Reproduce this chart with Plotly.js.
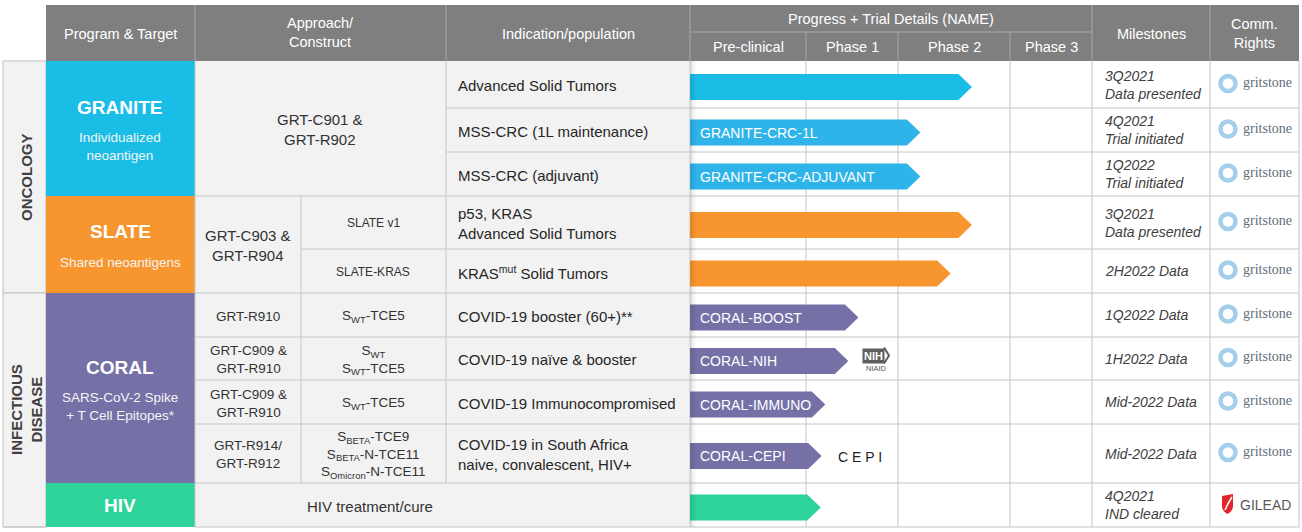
<!DOCTYPE html>
<html>
<head>
<meta charset="utf-8">
<script src="https://cdn.plot.ly/plotly-3.0.1.min.js"></script>
<style>
  html, body { margin: 0; padding: 0; background: #fff; }
  #chart { width: 1302px; height: 532px; }
</style>
</head>
<body>
<div id="chart"></div>
<script>
// ---- chart data ----
const areas = ['ONCOLOGY', 'INFECTIOUS<br>DISEASE'];
const areaRows = [5, 5];
const programs = ['GRANITE', 'SLATE', 'CORAL', 'HIV'];
const programSubs = ['Individualized<br>neoantigen', 'Shared neoantigens', 'SARS-CoV-2 Spike<br>+ T Cell Epitopes*', ''];
const programRows = [3, 2, 4, 1];
const phases = ['Pre-clinical', 'Phase 1', 'Phase 2', 'Phase 3'];

const indications = [
  'Advanced Solid Tumors',
  'MSS-CRC (1L maintenance)',
  'MSS-CRC (adjuvant)',
  'p53, KRAS<br>Advanced Solid Tumors',
  'KRAS<sup>mut</sup> Solid Tumors',
  'COVID-19 booster (60+)**',
  'COVID-19 naïve & booster',
  'COVID-19 Immunocompromised',
  'COVID-19 in South Africa<br>naive, convalescent, HIV+',
  ''
];
const trialNames = ['', 'GRANITE-CRC-1L', 'GRANITE-CRC-ADJUVANT', '', '', 'CORAL-BOOST', 'CORAL-NIH', 'CORAL-IMMUNO', 'CORAL-CEPI', ''];
// progress in stage units: 0 = start of pre-clinical, 1 = phase 1, 2 = phase 2, 3 = phase 3
const progress = [2.66, 2.2, 2.2, 2.66, 2.47, 1.57, 1.46, 1.21, 1.17, 1.16];
const milestones = [
  '3Q2021<br>Data presented',
  '4Q2021<br>Trial initiated',
  '1Q2022<br>Trial initiated',
  '3Q2021<br>Data presented',
  '2H2022 Data',
  '1Q2022 Data',
  '1H2022 Data',
  'Mid-2022 Data',
  'Mid-2022 Data',
  '4Q2021<br>IND cleared'
];
const rights = ['gritstone', 'gritstone', 'gritstone', 'gritstone', 'gritstone', 'gritstone', 'gritstone', 'gritstone', 'gritstone', 'GILEAD'];
const partners = ['', '', '', '', '', '', 'NIH', '', 'CEPI', ''];

// approach / construct text: merged blocks [firstRow, rowCount, text]
const constructMain = [
  [0, 3, 'GRT-C901 &<br>GRT-R902'],
  [3, 2, 'GRT-C903 &<br>GRT-R904'],
  [5, 1, 'GRT-R910'],
  [6, 1, 'GRT-C909 &<br>GRT-R910'],
  [7, 1, 'GRT-C909 &<br>GRT-R910'],
  [8, 1, 'GRT-R914/<br>GRT-R912'],
  [9, 1, 'HIV treatment/cure']
];
const constructSub = [
  '', '', '',
  'SLATE v1',
  'SLATE-KRAS',
  'S<sub>WT</sub>-TCE5',
  'S<sub>WT</sub><br>S<sub>WT</sub>-TCE5',
  'S<sub>WT</sub>-TCE5',
  'S<sub>BETA</sub>-TCE9<br>S<sub>BETA</sub>-N-TCE11<br>S<sub>Omicron</sub>-N-TCE11',
  ''
];

// ---- layout geometry and styles ----
const FONT = 'Liberation Sans, Arial, sans-serif';
const programColors = ['#19bde6', '#f7962f', '#7571a7', '#2dd399'];
const arrowColors = ['#19bde6', '#2fb4ea', '#2fb4ea', '#f7962f', '#f7962f', '#7571a7', '#7571a7', '#7571a7', '#7571a7', '#2dd399'];
const rowEdges = [61, 108, 152, 196, 249, 293, 337, 380, 424, 483, 527];
const phaseEdges = [690, 806, 898, 1010, 1092];
const headTop = 5, headMid = 32, headBottom = 61;
const gridColor = '#c6c6c6';

const rowCenter = i => (rowEdges[i] + rowEdges[i + 1]) / 2;
function stageX(v) {
  const i = Math.min(3, Math.floor(v));
  return phaseEdges[i] + (v - i) * (phaseEdges[i + 1] - phaseEdges[i]);
}

const shapes = [];
const annotations = [];

function box(x0, x1, y0, y1, fill, lineColor, layer) {
  shapes.push({
    type: 'rect', xref: 'x', yref: 'y', x0: x0, x1: x1, y0: y0, y1: y1,
    fillcolor: fill, line: { width: lineColor ? 1 : 0, color: lineColor || fill },
    layer: layer || 'below'
  });
}
function seg(x0, y0, x1, y1, color, layer) {
  shapes.push({
    type: 'line', xref: 'x', yref: 'y', x0: x0, y0: y0, x1: x1, y1: y1,
    line: { color: color, width: 1 }, layer: layer || 'below'
  });
}
function txt(x, y, text, size, color, opts) {
  annotations.push(Object.assign({
    xref: 'x', yref: 'y', x: x, y: y, text: text, showarrow: false,
    xanchor: 'center', yanchor: 'middle', align: 'center',
    font: { family: FONT, size: size, color: color }
  }, opts || {}));
}

// backgrounds
box(195, 690, rowEdges[0], rowEdges[10], '#f2f2f2');
box(46, 1299, headTop, headBottom, '#7f7f7f');

// area column
let r0 = 0;
areas.forEach((a, k) => {
  const y0 = rowEdges[r0], y1 = rowEdges[r0 + areaRows[k]];
  box(3, 46, y0, y1, '#f2f2f2', '#bfbfbf');
  txt(26, (y0 + y1) / 2, '<b>' + a + '</b>', 15, '#404040', { textangle: -90 });
  r0 += areaRows[k];
});

// program cells
r0 = 0;
programs.forEach((p, k) => {
  const y0 = rowEdges[r0], y1 = rowEdges[r0 + programRows[k]];
  const mid = (y0 + y1) / 2;
  box(46, 195, y0, y1, programColors[k]);
  if (programSubs[k]) {
    const lines = programSubs[k].split('<br>').length;
    txt(120, mid - (lines === 2 ? 21 : 13), '<b>' + p + '</b>', 19, '#ffffff');
    txt(120, mid + 18, programSubs[k], 13.5, '#f4f4f4');
  } else {
    txt(120, mid, '<b>' + p + '</b>', 19, '#ffffff');
  }
  r0 += programRows[k];
});

// grid lines in the body
for (let k = 1; k < rowEdges.length; k++) {
  let left = 195;
  if (k === 1 || k === 2) left = 446;
  if (k === 4) left = 301;
  seg(left, rowEdges[k], 1299, rowEdges[k], gridColor);
}
seg(3, rowEdges[10], 46, rowEdges[10], gridColor);
seg(195, rowEdges[0], 195, rowEdges[10], gridColor);
seg(301, rowEdges[3], 301, rowEdges[9], gridColor);
seg(446, rowEdges[0], 446, rowEdges[9], gridColor);
[690, 806, 898, 1010, 1092, 1210, 1299].forEach(x => seg(x, rowEdges[0], x, rowEdges[10], gridColor));

// soft shadow on the left edge of the progress area
[[691, 0.14], [692, 0.09], [693, 0.06], [694, 0.04], [695, 0.025], [696, 0.015]].forEach(s => {
  seg(s[0], rowEdges[0], s[0], rowEdges[10], 'rgba(0,0,0,' + s[1] + ')', 'above');
});

// header separators and labels
const headLine = '#a8a8a8';
[195, 446, 690, 1092, 1210].forEach(x => seg(x, headTop, x, headBottom, headLine));
[806, 898, 1010].forEach(x => seg(x, headMid, x, headBottom, headLine));
seg(690, headMid, 1092, headMid, headLine);

txt(120, 34, 'Program & Target', 14.5, '#ffffff');
txt(320, 32, 'Approach/<br>Construct', 14.5, '#ffffff');
txt(568, 34, 'Indication/population', 14.5, '#ffffff');
txt(891, 19, 'Progress + Trial Details (NAME)', 14.5, '#ffffff');
phases.forEach((ph, i) => txt((phaseEdges[i] + phaseEdges[i + 1]) / 2, 47, ph, 14.5, '#ffffff'));
txt(1151, 34, 'Milestones', 14.5, '#ffffff');
txt(1254, 33, 'Comm.<br>Rights', 14.5, '#ffffff');

// approach / construct text
constructMain.forEach(c => {
  const y = (rowEdges[c[0]] + rowEdges[c[0] + c[1]]) / 2;
  let x = 248, size = 13.5;
  if (c[0] === 0) { x = 320; size = 15; }
  if (c[0] === 3) { size = 15; }
  if (c[0] === 9) { x = 370; size = 15; }
  txt(x, y + 1, c[2], size, '#333333');
});
constructSub.forEach((s, i) => {
  if (!s) return;
  const size = i < 5 ? 12 : 13.5;
  txt(373, rowCenter(i) + (i === 3 ? 0 : 1), s, size, '#333333');
});

// indication column
indications.forEach((t, i) => {
  if (!t) return;
  txt(456, rowCenter(i) + 1, t, 15, '#262626', { xanchor: 'left', align: 'left' });
});

// milestones
milestones.forEach((m, i) => {
  txt(1103, rowCenter(i), '<i>' + m + '</i>', 14, '#404040', { xanchor: 'left', align: 'left' });
});

// progress arrows
const traces = [];
const halfH = 13, tip = 13.5;
progress.forEach((v, i) => {
  const yc = rowCenter(i) + 2.5;
  const x0 = phaseEdges[0];
  const xe = stageX(v);
  traces.push({
    type: 'scatter', mode: 'lines', fill: 'toself',
    x: [x0, xe - tip, xe, xe - tip, x0, x0],
    y: [yc - halfH, yc - halfH, yc, yc + halfH, yc + halfH, yc - halfH],
    fillcolor: arrowColors[i], line: { width: 0, color: arrowColors[i] },
    hoverinfo: 'skip', showlegend: false
  });
  if (trialNames[i]) {
    txt(x0 + 8, yc, trialNames[i], 14, '#ffffff', { xanchor: 'left' });
  }
});

// partner marks next to arrows
partners.forEach((p, i) => {
  const yc = rowCenter(i) + 2;
  if (p === 'NIH') {
    txt(873, yc - 5, '<b>NIH</b>', 11, '#ffffff', { bgcolor: '#5e5e5e', borderpad: 1 });
    shapes.push({ type: 'path', xref: 'x', yref: 'y', path: `M884,${yc - 13} L889,${yc - 5} L884,${yc + 3}`,
      line: { color: '#5e5e5e', width: 2 }, layer: 'above' });
    txt(876, yc + 8, 'NIAID', 7.5, '#555555');
  } else if (p === 'CEPI') {
    txt(860, yc + 1, 'C E P I', 14, '#222222');
  }
});

// commercial rights logos
const ringX = [], ringY = [];
rights.forEach((r, i) => {
  const yc = rowCenter(i) - 1;
  if (r === 'gritstone') {
    ringX.push(1228); ringY.push(yc);
    txt(1241, yc - 1, 'gritstone', 14, '#5f6e7b', { xanchor: 'left', font: { family: 'Liberation Serif, serif', size: 14, color: '#5f6e7b' } });
  } else {
    shapes.push({ type: 'path', xref: 'x', yref: 'y',
      path: `M1222,${yc - 8} L1233,${yc - 10} L1233,${yc + 2} Q1233,${yc + 7} 1227.5,${yc + 10} Q1222,${yc + 7} 1222,${yc + 2} Z`,
      fillcolor: '#e3242b', line: { width: 0 }, layer: 'above' });
    shapes.push({ type: 'path', xref: 'x', yref: 'y',
      path: `M1225,${yc + 6} Q1228,${yc - 1} 1232,${yc - 7}`,
      line: { color: '#ffffff', width: 1.5 }, layer: 'above' });
    txt(1238, yc + 1, 'GILEAD', 14, '#5a5a5a', { xanchor: 'left' });
  }
});
traces.push({
  type: 'scatter', mode: 'markers', x: ringX, y: ringY,
  marker: { symbol: 'circle-open', size: 15, color: '#a3cfea', line: { width: 4.5, color: '#a3cfea' } },
  hoverinfo: 'skip', showlegend: false
});

const layout = {
  width: 1302, height: 532,
  margin: { l: 0, r: 0, t: 0, b: 0 },
  paper_bgcolor: '#ffffff', plot_bgcolor: '#ffffff',
  xaxis: { range: [0, 1302], visible: false, fixedrange: true },
  yaxis: { range: [532, 0], visible: false, fixedrange: true },
  shapes: shapes,
  annotations: annotations,
  font: { family: FONT }
};

Plotly.newPlot('chart', traces, layout, { staticPlot: true, displayModeBar: false });
</script>
</body>
</html>
